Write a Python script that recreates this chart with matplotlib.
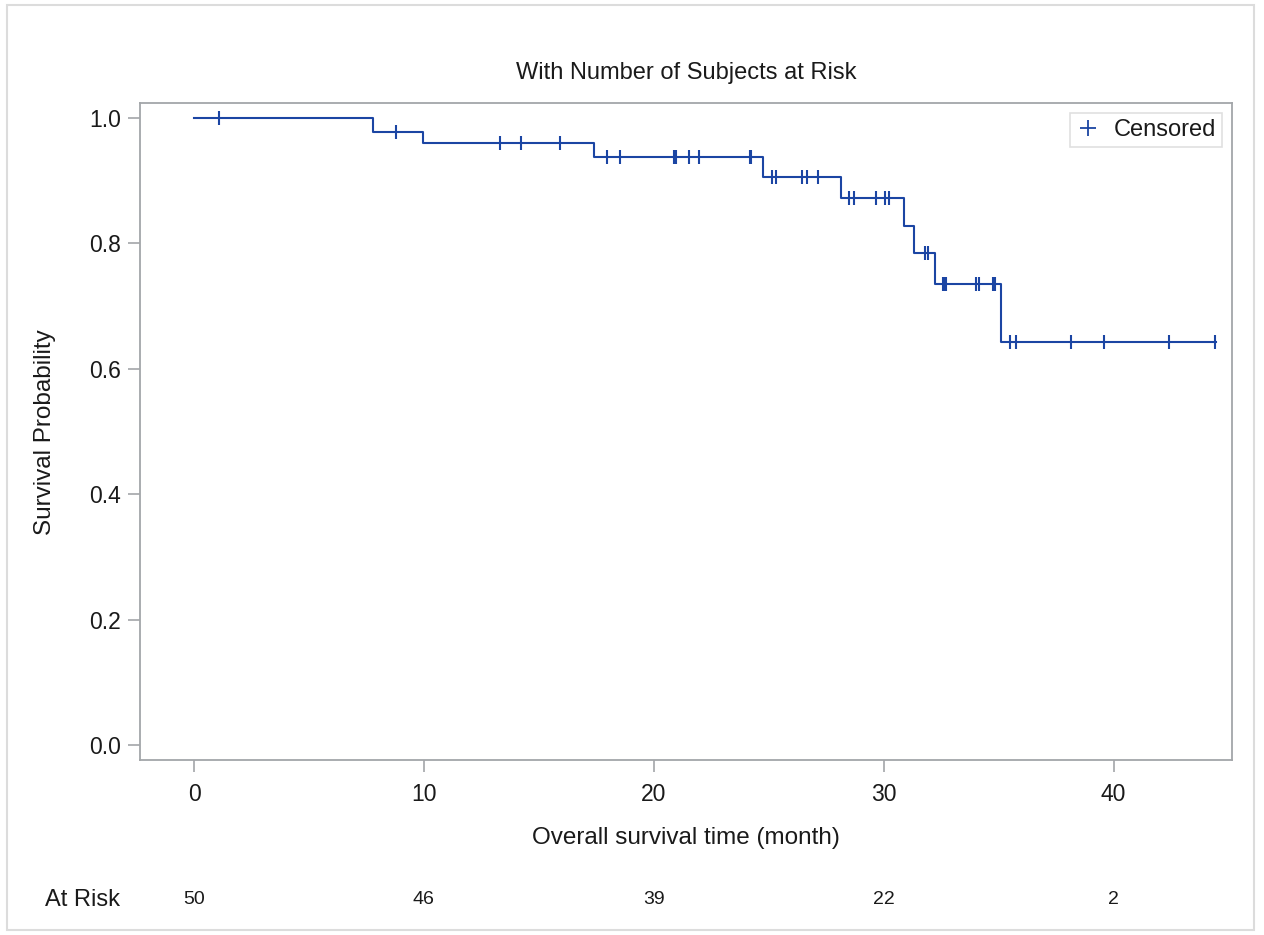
import numpy as np
import matplotlib
matplotlib.use("Agg")
import matplotlib.pyplot as plt
from matplotlib.patches import Rectangle
from matplotlib.lines import Line2D

# Kaplan-Meier steps
event_times = [0.0, 7.8, 9.95, 17.4, 24.75, 28.15, 30.87, 31.3, 32.22, 35.1]
surv_levels = [1.0, 0.978, 0.9595, 0.938, 0.9065, 0.872, 0.8285, 0.7855, 0.7357, 0.643]
end_time = 44.45

# censored observations (close pairs draw as thick ticks)
censor_times = [1.09, 8.8, 13.3, 14.23, 15.94, 17.97, 18.55,
                20.88, 20.95, 21.52, 21.96, 24.17, 24.24,
                25.12, 25.32, 26.45, 26.67, 27.13,
                28.48, 28.71, 29.67, 30.07, 30.25,
                31.78, 31.93, 32.6, 32.65, 32.7, 34.01, 34.16, 34.75, 34.82,
                35.51, 35.75, 38.14, 39.6, 42.39, 44.42]

risk_times = [0, 10, 20, 30, 40]
risk_counts = [50, 46, 39, 22, 2]

blue = "#1b45a3"
frame = "#a3a6a9"
txt = "#1a1a1a"
plt.rcParams["font.family"] = ["Liberation Sans", "DejaVu Sans"]

W, H = 1264, 935
fig = plt.figure(figsize=(W / 100, H / 100), dpi=100)
ax = fig.add_axes([140 / W, 1 - 760 / H, (1232 - 140) / W, (760 - 103) / H])

xs = list(event_times) + [end_time]
ys = list(surv_levels) + [surv_levels[-1]]
ax.step(xs, ys, where="post", color=blue, lw=1.5)

idx = np.searchsorted(event_times, censor_times, side="right") - 1
cens_y = np.array(surv_levels)[idx]
ax.plot(censor_times, cens_y, ls="none", marker="|", ms=10, mew=1.5, color=blue)

ax.set_xlim(-2.35, 45.15)
ax.set_ylim(-0.024, 1.024)
ax.set_xticks([0, 10, 20, 30, 40])
ax.set_yticks([0.0, 0.2, 0.4, 0.6, 0.8, 1.0])
ax.set_yticklabels(["0.0", "0.2", "0.4", "0.6", "0.8", "1.0"])
ax.tick_params(direction="out", length=8.5, width=1.2, color=frame,
               labelsize=16.5, labelcolor=txt)
ax.tick_params(axis="y", pad=5)
ax.tick_params(axis="x", pad=8)
for s in ax.spines.values():
    s.set_color(frame)
    s.set_linewidth(1.3)

fig.text(686 / W, 1 - 73 / H, "With Number of Subjects at Risk", fontsize=17,
         color=txt, ha="center", va="center")
fig.text(686 / W, 1 - 838 / H, "Overall survival time (month)", fontsize=17.5,
         color=txt, ha="center", va="center")
fig.text(45 / W, 1 - 432 / H, "Survival Probability", fontsize=17.5,
         color=txt, ha="center", va="center", rotation=90)

handle = Line2D([], [], ls="none", marker="+", ms=11, mew=1.3, color=blue)
leg = ax.legend([handle], ["Censored"], loc="upper right", fontsize=17,
                frameon=True, fancybox=False, borderaxespad=0.42,
                handlelength=1.0, handletextpad=0.6, borderpad=0.25)
leg.get_frame().set_edgecolor("#d8d8d8")
leg.get_frame().set_linewidth(1.2)
for t in leg.get_texts():
    t.set_color(txt)

# at-risk row
fig.text(45 / W, 1 - 900 / H, "At Risk", fontsize=17, color=txt,
         ha="left", va="center")
for t, n in zip(risk_times, risk_counts):
    ax.annotate(str(n), xy=(t, 0), xycoords=("data", "axes fraction"),
                xytext=(0, -140), textcoords="offset pixels",
                ha="center", va="center", fontsize=14, color=txt)

fig.patches.append(Rectangle((7 / W, 1 - 930 / H), (1254 - 7) / W, (930 - 5) / H,
                             transform=fig.transFigure, fill=False,
                             edgecolor="#dcdcdc", lw=1.5))

fig.savefig("out.png", dpi=100, facecolor="white")
